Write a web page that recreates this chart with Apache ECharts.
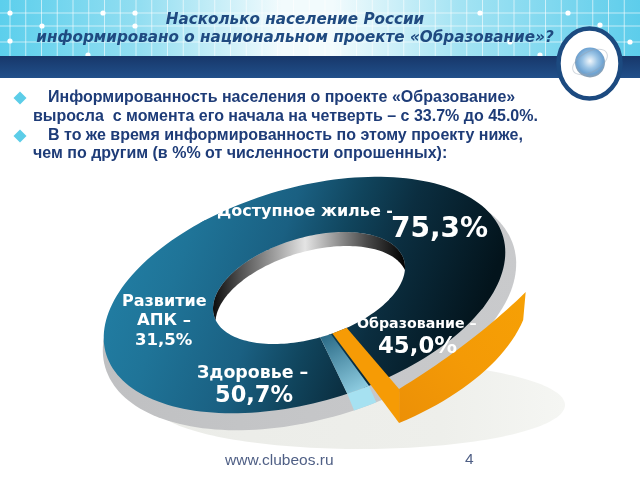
<!DOCTYPE html>
<html><head><meta charset="utf-8">
<style>html,body{margin:0;padding:0;background:#fff}#c{width:640px;height:480px}</style>
<script src="https://cdn.jsdelivr.net/npm/echarts@6/dist/echarts.min.js"></script>
</head><body><div id="c"></div>
<script>
// ---- data ----
var categories = ['Здоровье', 'Развитие АПК', 'Доступное жилье', 'Образование'];
var values = [50.7, 31.5, 75.3, 45.0];
var titleLines = ['Насколько население России', 'информировано о национальном проекте «Образование»?'];
var bodyLines = [
  'Информированность населения о проекте «Образование»',
  'выросла  с момента его начала на четверть – с 33.7% до 45.0%.',
  'В то же время информированность по этому проекту ниже,',
  'чем по другим (в %% от численности опрошенных):'
];
var footerText = 'www.clubeos.ru';
var pageNumber = '4';

// ---- layout & style ----
var TILT = 16.5 * Math.PI / 180, CS = Math.cos(TILT), SN = Math.sin(TILT);
var OUTER = {cx: 304.5, cy: 295, a: 207, b: 107};
var HOLE = {cx: 309, cy: 288, a: 99, b: 50.5};
var GREY = {cx: 309.5, cy: 307, a: 213, b: 112};
var RIM = {cx: 308.5, cy: 289.3, a: 242, b: 125};
var SHADOW = {cx: 360, cy: 405, a: 205, b: 44};
var SEAM = 86.4, GAP = 6.4, SKEW = 5.5, STEP = 2;

function pt(e, tDeg, tilt) {
  var t = tDeg * Math.PI / 180, u = e.a * Math.cos(t), v = e.b * Math.sin(t);
  var c = tilt === false ? 1 : CS, s = tilt === false ? 0 : SN;
  return [e.cx + u * c + v * s, e.cy - u * s + v * c];
}
function arc(e, t0, t1, tilt) {
  var n = Math.max(2, Math.ceil(Math.abs(t1 - t0) / STEP)), out = [];
  for (var i = 0; i <= n; i++) out.push(pt(e, t0 + (t1 - t0) * i / n, tilt));
  return out;
}
function oval(e, tilt) { return arc(e, 0, 360, tilt); }
function shift(p, dx, dy) { return p.map(function (q) { return [q[0] + dx, q[1] + dy]; }); }
// keep an arc's ends but scale how far it bows away from its chord
function bow(p, k) {
  var a = p[0], b = p[p.length - 1], n = p.length - 1;
  return p.map(function (q, i) {
    var cx = a[0] + (b[0] - a[0]) * i / n, cy = a[1] + (b[1] - a[1]) * i / n;
    return [cx + (q[0] - cx) * k, cy + (q[1] - cy) * k];
  });
}

var ringFill = {type: 'linear', x: 105, y: 235, x2: 481, y2: 370, global: true, colorStops: [
  {offset: 0, color: '#2280a6'}, {offset: .2, color: '#1f7498'}, {offset: .42, color: '#1a6082'},
  {offset: .57, color: '#10445c'}, {offset: .7, color: '#0b2e40'}, {offset: .95, color: '#03141c'}, {offset: 1, color: '#03141c'}]};
var wallFill = {type: 'linear', x: 213, y: 0, x2: 405, y2: 0, global: true, colorStops: [
  {offset: 0, color: '#0c0c0c'}, {offset: .14, color: '#505050'}, {offset: .48, color: '#e4e4e4'},
  {offset: .8, color: '#4a4a4a'}, {offset: 1, color: '#000000'}]};

// sector sweeps: education wedge runs one degree per percent, the others share the rest of the ring
var eduIdx = categories.indexOf('Образование');
var eduEnd = SEAM - GAP, eduStart = eduEnd - values[eduIdx];
var restSum = 0; values.forEach(function (v, i) { if (i !== eduIdx) restSum += v; });
var restSweep = 360 - values[eduIdx] - GAP;
var sectors = (function () {
  var t = SEAM, out = [];
  values.forEach(function (v, i) {
    if (i === eduIdx) { out.push([eduStart, eduEnd]); return; }
    var d = v / restSum * restSweep; out.push([t, t + d]); t += d;
  });
  return out;
})();

function polyEl(points, fill) {
  return {type: 'polygon', shape: {points: points}, style: {fill: fill}, silent: true};
}
function renderBase() {
  return {type: 'group', children: [
    polyEl(oval(SHADOW, false), {type: 'linear', x: 155, y: 0, x2: 565, y2: 0, global: true, colorStops: [
      {offset: 0, color: '#ebece8'}, {offset: .7, color: '#eeefeb'}, {offset: 1, color: '#f5f6f3'}]}),
    polyEl(oval(GREY), {type: 'linear', x: 100, y: 300, x2: 520, y2: 300, global: true, colorStops: [
      {offset: 0, color: '#bfc0c2'}, {offset: .5, color: '#c5c6c8'}, {offset: 1, color: '#c9cacc'}]}),
    polyEl(oval(HOLE), wallFill),
    polyEl(shift(oval(HOLE), 2.5, 14), '#ffffff')
  ]};
}
function renderRing(params) {
  var s = sectors[params.dataIndex], e = s[1] + 1.5; // overlap a little so the joins do not show
  var pts = arc(OUTER, s[0], e).concat(arc(HOLE, e + SKEW, s[0] + SKEW));
  return polyEl(pts, ringFill);
}
function renderSeam() {
  var t0 = SEAM, t1 = SEAM - GAP;
  var wall = arc(OUTER, t0, t1).concat(arc(GREY, t1, t0));
  var face = arc(OUTER, t0, t1).concat(arc(HOLE, t1 + SKEW, t0 + SKEW));
  return {type: 'group', children: [
    polyEl(wall, '#a6e1f1'),
    polyEl(face, {type: 'linear', x: 326, y: 335, x2: 358, y2: 392, global: true, colorStops: [
      {offset: 0, color: '#2b6b87'}, {offset: 1, color: '#8fcde1'}]})
  ]};
}
function renderWedge(params) {
  var end = eduEnd - 4, start = end - values[eduIdx]; // rim sits further out than the ring itself
  var base = arc(RIM, end, start), n = base.length - 1;
  var top = bow(base, .4);
  var low = bow(base.map(function (q, i) { return [q[0] - 2.5 * i / n, q[1] + 34 - 6 * i / n]; }), 1.3);
  var face = [pt(HOLE, end + 8.5), pt(HOLE, end - .5), top[0], low[0]];
  return {type: 'group', children: [
    polyEl(top.concat(low.slice().reverse()), {type: 'linear', x: 399, y: 420, x2: 526, y2: 300, global: true, colorStops: [
      {offset: 0, color: '#ec9006'}, {offset: .5, color: '#f49a06'}, {offset: 1, color: '#f6a005'}]}),
    polyEl(face, '#f69b05')
  ]};
}

var LABELS = [
  function (n, v) { return [[n + ' –', 197, 373, 17.4], [v, 215, 396, 22.5]]; },
  function (n, v) { return [['Развитие', 122, 302, 16], ['АПК –', 137, 321, 16.5], [v, 135, 341, 16.5]]; },
  function (n, v) { return [[n + ' -', 217, 212, 16], [v, 391, 230, 28]]; },
  function (n, v) { return [[n + ' –', 357, 324, 14.2], [v, 378, 347, 22.8]]; }
];
function fmt(v) { return v.toFixed(1).replace('.', ',') + '%'; }
function renderLabel(params) {
  var i = params.dataIndex;
  var kids = LABELS[i](categories[i], fmt(values[i])).map(function (l) {
    return {type: 'text', silent: true, style: {text: l[0], x: l[1], y: l[2], fill: '#ffffff',
      font: 'bold ' + l[3] + 'px "DejaVu Sans"', textVerticalAlign: 'middle', textAlign: 'left'}};
  });
  return {type: 'group', children: kids};
}

// ---- slide furniture ----
var HEAD = 56, BAND = 22;
var graphics = [];
graphics.push({type: 'rect', z: 0, silent: true, shape: {x: 0, y: 0, width: 640, height: HEAD}, style: {fill:
  {type: 'linear', x: 0, y: 0, x2: 1, y2: 0, colorStops: [
    {offset: 0, color: '#5ccfec'}, {offset: .22, color: '#93def1'}, {offset: .44, color: '#f2fbfd'},
    {offset: .52, color: '#f2fbfd'}, {offset: .72, color: '#a3e3f3'}, {offset: 1, color: '#5dcdeb'}]}}});
for (var gx = 10; gx < 640; gx += 15.75) graphics.push({type: 'line', z: 1, silent: true,
  shape: {x1: gx, y1: 0, x2: gx, y2: HEAD}, style: {stroke: 'rgba(255,255,255,.6)', lineWidth: 1}});
[13, 26, 42].forEach(function (gy) { graphics.push({type: 'line', z: 1, silent: true,
  shape: {x1: 0, y1: gy, x2: 640, y2: gy}, style: {stroke: 'rgba(255,255,255,.6)', lineWidth: 1}}); });
[[10,13],[42,26],[103,13],[135,13],[135,26],[10,41],[88,55],[568,13],[600,25],[630,42],[480,13],[510,42],[540,55]].forEach(function (d) {
  graphics.push({type: 'circle', z: 1, silent: true, shape: {cx: d[0], cy: d[1], r: 2.6}, style: {fill: '#fff'}});
});
graphics.push({type: 'rect', z: 2, silent: true, shape: {x: 0, y: HEAD, width: 640, height: BAND}, style: {fill:
  {type: 'linear', x: 0, y: 0, x2: 0, y2: 1, colorStops: [{offset: 0, color: '#17376a'}, {offset: 1, color: '#21508a'}]}}});
graphics.push({type: 'ellipse', z: 3, silent: true, shape: {cx: 589.5, cy: 63.5, rx: 31, ry: 35},
  style: {fill: '#fff', stroke: '#1c4a80', lineWidth: 4.5}});
graphics.push({type: 'circle', z: 4, silent: true, shape: {cx: 590, cy: 62.5, r: 15}, style: {fill:
  {type: 'radial', x: .5, y: .45, r: .55, colorStops: [{offset: 0, color: '#f2f7fb'}, {offset: .45, color: '#9cc5e6'}, {offset: .8, color: '#6ea3d2'}, {offset: 1, color: '#8f9fae'}]}}});
graphics.push({type: 'ellipse', z: 4, silent: true, rotation: .5, x: 590, y: 62, shape: {cx: 0, cy: 0, rx: 19, ry: 10},
  style: {fill: 'none', stroke: 'rgba(150,165,180,.45)', lineWidth: 1}});

var titleY = [20, 38];
titleLines.forEach(function (t, i) {
  graphics.push({type: 'text', z: 5, silent: true, style: {text: t, x: 295, y: titleY[i], fill: '#1f4a80',
    font: 'italic bold 15.2px "DejaVu Sans"', textAlign: 'center', textVerticalAlign: 'middle'}});
});
var bodyX = [48, 33, 48, 33], bodyY = [98, 117, 136, 154];
bodyLines.forEach(function (t, i) {
  graphics.push({type: 'text', z: 5, silent: true, style: {text: t, x: bodyX[i], y: bodyY[i], fill: '#1e3c78',
    font: 'bold 16px "Liberation Sans"', textVerticalAlign: 'middle'}});
});
[98, 136].forEach(function (y) {
  graphics.push({type: 'polygon', z: 5, silent: true, shape: {points: [[20, y - 6.5], [26.5, y], [20, y + 6.5], [13.5, y]]}, style: {fill: '#5ccde8'}});
});
graphics.push({type: 'text', z: 5, silent: true, style: {text: footerText, x: 225, y: 461, fill: '#4f5f85', font: '15.5px "Liberation Sans"', textVerticalAlign: 'middle'}});
graphics.push({type: 'text', z: 5, silent: true, style: {text: pageNumber, x: 465, y: 460, fill: '#4f5f85', font: '15.5px "Liberation Sans"', textVerticalAlign: 'middle'}});

function custom(z, render, data) {
  return {type: 'custom', coordinateSystem: 'none', z: z, silent: true, animation: false, clip: false, renderItem: render, data: data};
}
var chart = echarts.init(document.getElementById('c'), null, {renderer: 'canvas'});
chart.setOption({
  animation: false, backgroundColor: '#ffffff',
  graphic: {elements: graphics},
  series: [
    custom(10, renderBase, [0]),
    custom(11, renderRing, values),
    custom(12, renderSeam, [0]),
    custom(13, renderWedge, [values[eduIdx]]),
    custom(14, renderLabel, values)
  ]
});
</script></body></html>
